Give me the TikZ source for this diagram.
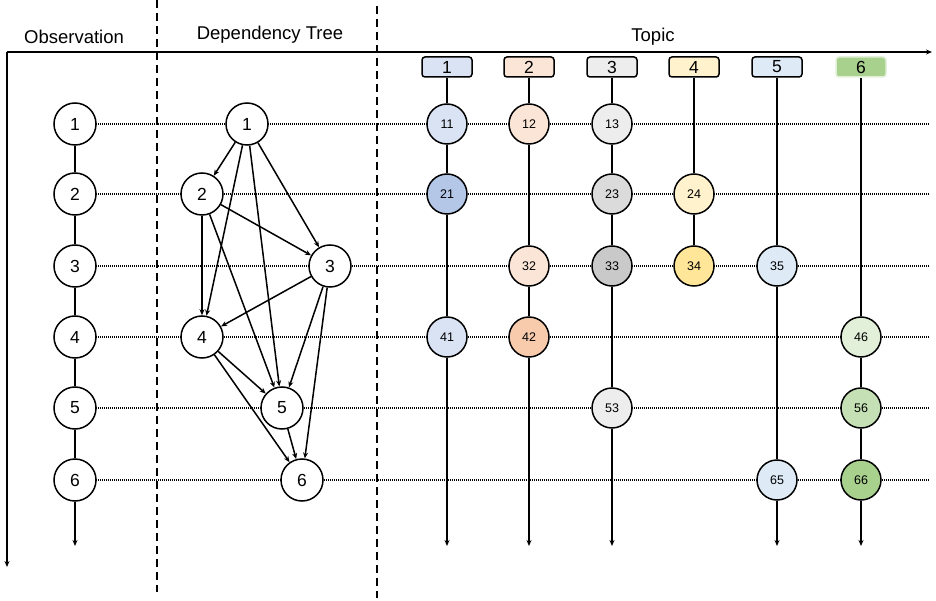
\documentclass[tikz,border=0pt]{standalone}
\usepackage{fontspec}
\setmainfont{Liberation Sans}
\usetikzlibrary{arrows.meta}
\definecolor{cA}{HTML}{DAE3F3}
\definecolor{cAd}{HTML}{B4C7E7}
\definecolor{cB}{HTML}{FBE5D6}
\definecolor{cBd}{HTML}{F8CBAD}
\definecolor{cC}{HTML}{EDEDED}
\definecolor{cCm}{HTML}{DBDBDB}
\definecolor{cCd}{HTML}{C9C9C9}
\definecolor{cD}{HTML}{FFF2CC}
\definecolor{cDd}{HTML}{FFE699}
\definecolor{cE}{HTML}{DEEBF7}
\definecolor{cF}{HTML}{E2F0D9}
\definecolor{cFm}{HTML}{C5E0B4}
\definecolor{cFd}{HTML}{A9D18E}
\begin{document}
\begin{tikzpicture}[x=1pt,y=-1pt,
  obs/.style={circle,draw,line width=1.5pt,fill=white,minimum size=42pt,inner sep=0pt,font=\fontsize{17.5}{17.5}\selectfont},
  tc/.style={circle,draw,line width=1.5pt,minimum size=40pt,inner sep=0pt,font=\fontsize{12.5}{12.5}\selectfont},
  tbox/.style={draw,rounded corners=3pt,line width=1.5pt,minimum width=50pt,minimum height=20pt,inner sep=0pt,font=\fontsize{17.5}{17.5}\selectfont},
  dotl/.style={line width=1.3pt,dash pattern=on 1pt off 1pt},
  vline/.style={line width=1.5pt},
  axis/.style={line width=1.5pt,-{Stealth[length=6pt,width=5pt]}},
  arr/.style={line width=1.5pt,-{Stealth[length=6pt,width=5pt]}},
  sep/.style={line width=1.5pt,dash pattern=on 8pt off 5pt},
  lbl/.style={font=\fontsize{18.5}{18.5}\selectfont}]
\useasboundingbox (0,0) rectangle (936,601);
% separators
\draw[sep] (157,0) -- (157,592);
\draw[sep] (377,6) -- (377,598);
% axes
\coordinate (o) at (7,52);
\coordinate (xe) at (932,52);
\coordinate (ye) at (7,567);
\draw[axis] (o) -- (xe);
\draw[axis] (o) -- (ye);
\node[lbl] (tobs) at (74,37) {Observation};
\node[lbl] (tdep) at (270,35) {Dependency Tree};
\node[lbl] (ttop) at (653,37) {Topic};
% dotted rows
\foreach \y in {124,194,266,337,408,480}{
  \draw[dotl] (96,\y) -- (930,\y);
}
% observation column
\foreach \i/\y in {1/124,2/194,3/266,4/337,5/408,6/480}{
  \node[obs] (o\i) at (75,\y) {\i};
}
\coordinate (oe) at (75,546);
\draw[vline] (o1) -- (o2) (o2) -- (o3) (o3) -- (o4) (o4) -- (o5) (o5) -- (o6);
\draw[arr] (o6) -- (oe);
% dependency tree
\node[obs] (d1) at (247,124) {1};
\node[obs] (d2) at (202,194) {2};
\node[obs] (d3) at (330,266) {3};
\node[obs] (d4) at (202,337) {4};
\node[obs] (d5) at (282,408) {5};
\node[obs] (d6) at (302,480) {6};
\draw[arr] (d1) -- (d2);
\draw[arr] (d1) -- (d4);
\draw[arr] (d1) -- (d5);
\draw[arr] (d1) -- (d3);
\draw[arr] (d2) -- (d4);
\draw[arr] (d2) -- (d3);
\draw[arr] (d2) -- (d5);
\draw[arr] (d3) -- (d4);
\draw[arr] (d3) -- (d5);
\draw[arr] (d3) -- (d6);
\draw[arr] (d4) -- (d5);
\draw[arr] (d4) -- (d6);
\draw[arr] (d5) -- (d6);
% topic boxes
\node[tbox,fill=cA] (b1) at (447,67) {1};
\node[tbox,fill=cB] (b2) at (529,67) {2};
\node[tbox,fill=cC] (b3) at (612,67) {3};
\node[tbox,fill=cD] (b4) at (694,67) {4};
\node[tbox,fill=cE] (b5) at (777,67) {5};
\node[tbox,fill=cFd,draw=cF] (b6) at (861,67) {6};
% topic circles
\node[tc,fill=cA] (t11) at (447,124) {11};
\node[tc,fill=cAd] (t21) at (447,194) {21};
\node[tc,fill=cA] (t41) at (447,337) {41};
\node[tc,fill=cB] (t12) at (529,124) {12};
\node[tc,fill=cB] (t32) at (529,266) {32};
\node[tc,fill=cBd] (t42) at (529,337) {42};
\node[tc,fill=cC] (t13) at (612,124) {13};
\node[tc,fill=cCm] (t23) at (612,194) {23};
\node[tc,fill=cCd] (t33) at (612,266) {33};
\node[tc,fill=cC] (t53) at (612,408) {53};
\node[tc,fill=cD] (t24) at (694,194) {24};
\node[tc,fill=cDd] (t34) at (694,266) {34};
\node[tc,fill=cE] (t35) at (777,266) {35};
\node[tc,fill=cE] (t65) at (777,480) {65};
\node[tc,fill=cF] (t46) at (861,337) {46};
\node[tc,fill=cFm] (t56) at (861,408) {56};
\node[tc,fill=cFd] (t66) at (861,480) {66};
% topic end points
\coordinate (e1) at (447,546);
\coordinate (e2) at (529,546);
\coordinate (e3) at (612,546);
\coordinate (e5) at (777,546);
\coordinate (e6) at (861,546);
% topic lines
\draw[vline] (b1) -- (t11) (t11) -- (t21) (t21) -- (t41);
\draw[arr] (t41) -- (e1);
\draw[vline] (b2) -- (t12) (t12) -- (t32) (t32) -- (t42);
\draw[arr] (t42) -- (e2);
\draw[vline] (b3) -- (t13) (t13) -- (t23) (t23) -- (t33) (t33) -- (t53);
\draw[arr] (t53) -- (e3);
\draw[vline] (b4) -- (t24) (t24) -- (t34);
\draw[vline] (b5) -- (t35) (t35) -- (t65);
\draw[arr] (t65) -- (e5);
\draw[vline] (b6) -- (t46) (t46) -- (t56) (t56) -- (t66);
\draw[arr] (t66) -- (e6);
\end{tikzpicture}
\end{document}
